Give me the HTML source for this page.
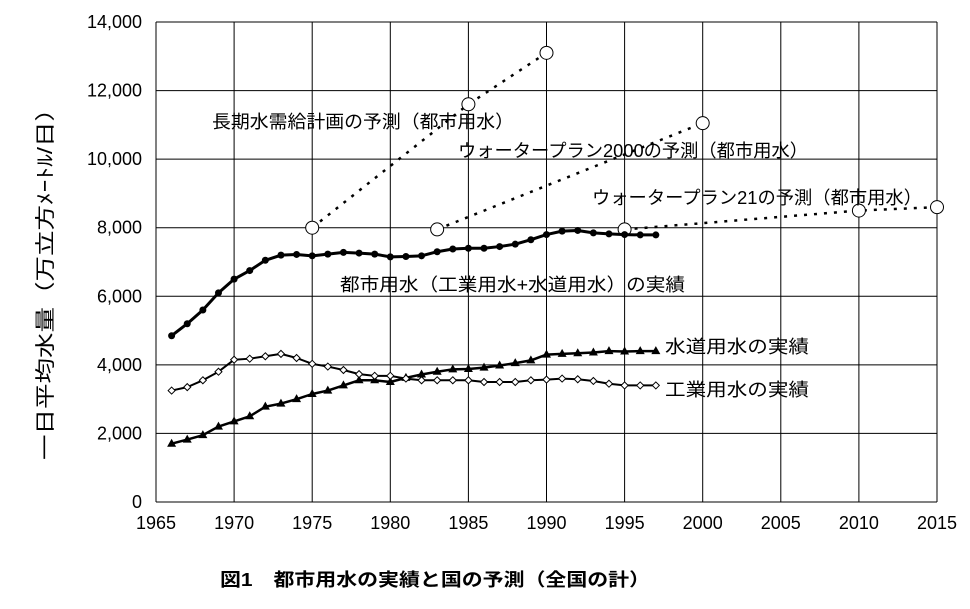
<!DOCTYPE html>
<html><head><meta charset="utf-8"><style>
body{margin:0;background:#fff}
svg text{font-family:"Liberation Sans","Noto Sans CJK JP",sans-serif;fill:#000}
</style></head><body>
<svg width="970" height="604" xmlns="http://www.w3.org/2000/svg">
<g id="grid"></g>
<g id="ticks"></g>
<g id="series"></g>
<text transform="translate(52,278) rotate(-90)" text-anchor="middle" font-size="20" textLength="364" lengthAdjust="spacingAndGlyphs">一日平均水量（万立方ﾒｰﾄﾙ/日）</text>
<text x="220" y="586" font-size="18" font-weight="bold" textLength="430" lengthAdjust="spacingAndGlyphs">図1　都市用水の実績と国の予測（全国の計）</text>
<text x="212" y="128" font-size="18" textLength="302" lengthAdjust="spacingAndGlyphs">長期水需給計画の予測（都市用水）</text>
<text x="458" y="157" font-size="18" textLength="350" lengthAdjust="spacingAndGlyphs">ウォータープラン2000の予測（都市用水）</text>
<text x="592" y="204" font-size="18" textLength="330" lengthAdjust="spacingAndGlyphs">ウォータープラン21の予測（都市用水）</text>
<text x="340" y="291" font-size="18" textLength="345" lengthAdjust="spacingAndGlyphs">都市用水（工業用水+水道用水）の実績</text>
<text x="665" y="353" font-size="18" textLength="144" lengthAdjust="spacingAndGlyphs">水道用水の実績</text>
<text x="665" y="396" font-size="18" textLength="144" lengthAdjust="spacingAndGlyphs">工業用水の実績</text>
</svg>
<script>
const years=[1966,1967,1968,1969,1970,1971,1972,1973,1974,1975,1976,1977,1978,1979,1980,1981,1982,1983,1984,1985,1986,1987,1988,1989,1990,1991,1992,1993,1994,1995,1996,1997];
const urban=[4850,5200,5600,6100,6500,6750,7050,7200,7220,7180,7230,7280,7260,7230,7150,7160,7180,7300,7380,7400,7400,7450,7520,7650,7800,7900,7920,7850,7820,7800,7790,7790];
const supply=[1700,1820,1950,2200,2350,2500,2780,2870,3000,3150,3250,3400,3550,3550,3500,3620,3720,3800,3870,3880,3920,3980,4050,4130,4300,4320,4340,4360,4400,4390,4400,4400];
const industrial=[3250,3350,3550,3800,4150,4180,4250,4320,4200,4030,3950,3850,3730,3680,3680,3600,3550,3550,3550,3550,3500,3500,3500,3550,3570,3600,3580,3530,3450,3400,3400,3400];
const planLongYears=[1975,1985,1990];
const planLongVals=[8000,11600,13100];
const plan2000Years=[1983,2000];
const plan2000Vals=[7950,11050];
const plan21Years=[1995,2010,2015];
const plan21Vals=[7950,8500,8600];
const xTicks=[1965,1970,1975,1980,1985,1990,1995,2000,2005,2010,2015];
const yTicks=[0,2000,4000,6000,8000,10000,12000,14000];
const NS='http://www.w3.org/2000/svg';
const X=v=>156+(v-1965)*(937-156)/50;
const Y=v=>502-v*(502-22)/14000;
function mk(parent,tag,attrs){const e=document.createElementNS(NS,tag);for(const k in attrs)e.setAttribute(k,attrs[k]);document.getElementById(parent).appendChild(e);return e;}
xTicks.forEach(t=>{
 const l=mk('grid','line',{x1:X(t),x2:X(t),y1:Y(0),y2:Y(14000),stroke:'#000','stroke-width':1});
 
 
 const tx=mk('ticks','text',{x:X(t),y:529,'text-anchor':'middle','font-size':18});
 tx.textContent=t;
 
 
});
yTicks.forEach(t=>{
 const l=mk('grid','line',{x1:X(1965),x2:X(2015),y1:Y(t),y2:Y(t),stroke:'#000','stroke-width':1});
 
 
 const tx=mk('ticks','text',{x:142,y:Y(t)+6,'text-anchor':'end','font-size':18});
 tx.textContent=t.toLocaleString('en-US');
 
 
});
function line(xs,vs,name,w,dash){
 const p=mk('series','polyline',{points:xs.map((x,i)=>X(x)+','+Y(vs[i])).join(' '),fill:'none',stroke:'#000','stroke-width':w,'stroke-linejoin':'round'});
 if(dash)p.setAttribute('stroke-dasharray',dash);
 
 
}
line(planLongYears,planLongVals,'long-term-plan-line',2.5,'3,7');
line(plan2000Years,plan2000Vals,'water-plan-2000-line',2.5,'3,7');
line(plan21Years,plan21Vals,'water-plan-21-line',2.5,'3,7');
[[planLongYears,planLongVals],[plan2000Years,plan2000Vals],[plan21Years,plan21Vals]].forEach(([xs,vs])=>xs.forEach((x,i)=>{
 const c=mk('series','circle',{cx:X(x),cy:Y(vs[i]),r:6.5,fill:'#fff',stroke:'#000','stroke-width':1});
 
 
}));
line(years,urban,'urban-actual-line',3);
line(years,supply,'supply-actual-line',2.5);
line(years,industrial,'industrial-actual-line',2);
years.forEach((y,i)=>{
 const c=mk('series','circle',{cx:X(y),cy:Y(urban[i]),r:3.5,fill:'#000'});
 
 
 const x=X(y),yy=Y(supply[i]);
 const t=mk('series','polygon',{points:`${x},${yy-5} ${x-4.5},${yy+3} ${x+4.5},${yy+3}`,fill:'#000'});
 
 
 const yi=Y(industrial[i]);
 const d=mk('series','polygon',{points:`${x},${yi-3.5} ${x+3.5},${yi} ${x},${yi+3.5} ${x-3.5},${yi}`,fill:'#fff',stroke:'#000','stroke-width':1});
 
 
});
</script>
</body></html>
